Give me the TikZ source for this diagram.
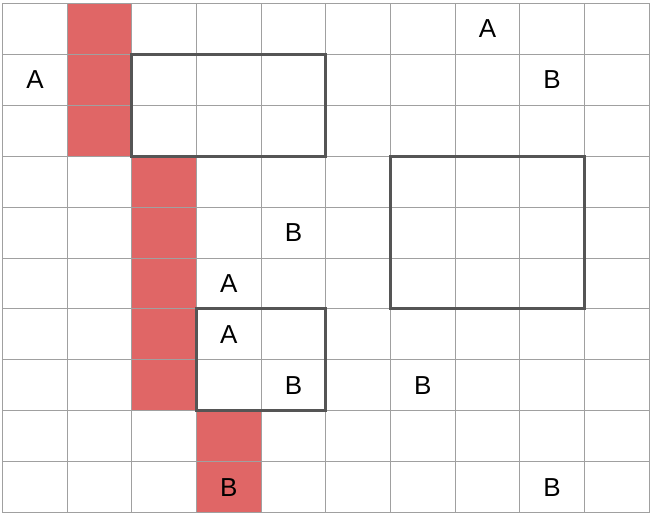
\documentclass[tikz,border=0pt]{standalone}
\usepackage{fontspec}
\setmainfont{Liberation Sans}
\definecolor{cellred}{HTML}{E06666}
\definecolor{gridgray}{HTML}{A0A0A0}
\definecolor{boxgray}{HTML}{555555}
\newcommand{\cx}[1]{2.7+64.63*(#1)}
\newcommand{\cy}[1]{3.3+50.94*(#1)}
\begin{document}
\begin{tikzpicture}[x=0.5pt,y=-0.5pt,
  redcell/.style={fill=cellred,draw=none},
  gridline/.style={draw=gridgray,line width=0.5pt},
  thickbox/.style={draw=boxgray,line width=1.5pt},
  lbl/.style={font=\fontsize{13}{13}\selectfont,inner sep=0pt}]
\useasboundingbox (0,0) rectangle (652,516);
\fill[white] (0,0) rectangle (652,516);
% red cells
\foreach \c/\r in {1/0,1/1,1/2,2/3,2/4,2/5,2/6,2/7,3/8,3/9}
  \path[redcell] ({\cx{\c}},{\cy{\r}}) rectangle ({\cx{\c+1}},{\cy{\r+1}});
% grid
\foreach \i in {0,...,10} {
  \draw[gridline] ({\cx{\i}},{\cy{0}}) -- ({\cx{\i}},{\cy{10}});
  \draw[gridline] ({\cx{0}},{\cy{\i}}) -- ({\cx{10}},{\cy{\i}});
}
% thick boxes
\draw[thickbox] ({\cx{2}},{\cy{1}}) rectangle ({\cx{5}},{\cy{3}});
\draw[thickbox] ({\cx{6}},{\cy{3}}) rectangle ({\cx{9}},{\cy{6}});
\draw[thickbox] ({\cx{3}},{\cy{6}}) rectangle ({\cx{5}},{\cy{8}});
% labels
\foreach \n/\c/\r/\t in {a1/7/0/A,a2/0/1/A,b1/8/1/B,b2/4/4/B,a3/3/5/A,a4/3/6/A,b3/4/7/B,b4/6/7/B,b5/3/9/B,b6/8/9/B}
  \node[lbl] (\n) at ({\cx{\c+0.5}},{\cy{\r+0.5}}) {\t};
\end{tikzpicture}
\end{document}
